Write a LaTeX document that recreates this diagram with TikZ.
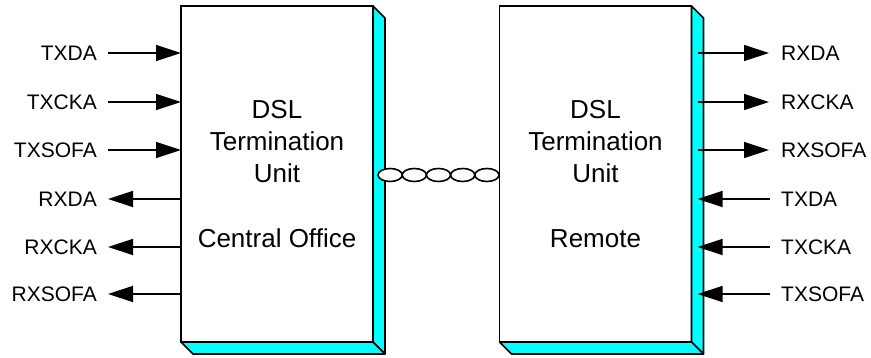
\documentclass[tikz,border=0pt]{standalone}
\usepackage{fontspec}
\setmainfont{Liberation Sans}
\usetikzlibrary{arrows.meta,shapes.geometric}
\definecolor{aqua}{RGB}{0,255,255}
\begin{document}
\begin{tikzpicture}[x=1pt,y=-1pt,
 unit/.style={draw,line width=1.6pt,fill=white,minimum width=192pt,minimum height=336pt,inner sep=0pt,outer sep=0pt,align=center,font=\fontsize{26}{32.3}\selectfont},
 face/.style={draw,line width=1.6pt,fill=aqua,line join=round},
 sig/.style={font=\fontsize{21}{25}\selectfont,inner sep=0pt},
 arr/.style={line width=1.3pt,-{Triangle[length=25pt,width=16pt]}},
 link/.style={draw,ellipse,line width=1.6pt,fill=white,minimum width=24.2pt,minimum height=13pt,inner sep=0pt}]
\useasboundingbox (0,0) rectangle (871,358);
% boxes
\node[unit] (co) at (277,174) {DSL\\Termination\\Unit\\\mbox{}\\Central Office};
\node[unit] (rm) at (595.5,174) {DSL\\Termination\\Unit\\\mbox{}\\Remote};
\foreach \b in {co,rm}{
  \filldraw[face] (\b.north east) -- ++(12,12) -- ([shift={(12pt,-12pt)}]\b.south east) -- (\b.south east) -- cycle;
  \filldraw[face] (\b.south west) -- ++(12,12) -- ([shift={(12pt,-12pt)}]\b.south east) -- (\b.south east) -- cycle;
}
% twisted pair
\foreach \i in {1,...,5}{
  \node[link] (c\i) at ({390.1+24.2*(\i-1)},175) {};
}
% left signals
\node[sig,anchor=east] (lt1) at (97,53) {TXDA};
\node[sig,anchor=east] (lt2) at (97,102) {TXCKA};
\node[sig,anchor=east] (lt3) at (97,150) {TXSOFA};
\node[sig,anchor=east] (lr1) at (97,199) {RXDA};
\node[sig,anchor=east] (lr2) at (97,247) {RXCKA};
\node[sig,anchor=east] (lr3) at (97,294) {RXSOFA};
\foreach \n in {lt1,lt2,lt3}{
  \draw[arr] ([xshift=11pt]\n.east) -- (\n.east -| co.west);
}
\foreach \n in {lr1,lr2,lr3}{
  \draw[arr] (\n.east -| co.west) -- ([xshift=11pt]\n.east);
}
% right signals
\node[sig,anchor=west] (rr1) at (781,53) {RXDA};
\node[sig,anchor=west] (rr2) at (781,102) {RXCKA};
\node[sig,anchor=west] (rr3) at (781,150) {RXSOFA};
\node[sig,anchor=west] (rt1) at (781,199) {TXDA};
\node[sig,anchor=west] (rt2) at (781,247) {TXCKA};
\node[sig,anchor=west] (rt3) at (781,294) {TXSOFA};
\foreach \n in {rr1,rr2,rr3}{
  \draw[arr] ([xshift=6pt]\n.west -| rm.east) -- ([xshift=-12pt]\n.west);
}
\foreach \n in {rt1,rt2,rt3}{
  \draw[arr] ([xshift=-11pt]\n.west) -- ([xshift=6pt]\n.west -| rm.east);
}
\end{tikzpicture}
\end{document}
